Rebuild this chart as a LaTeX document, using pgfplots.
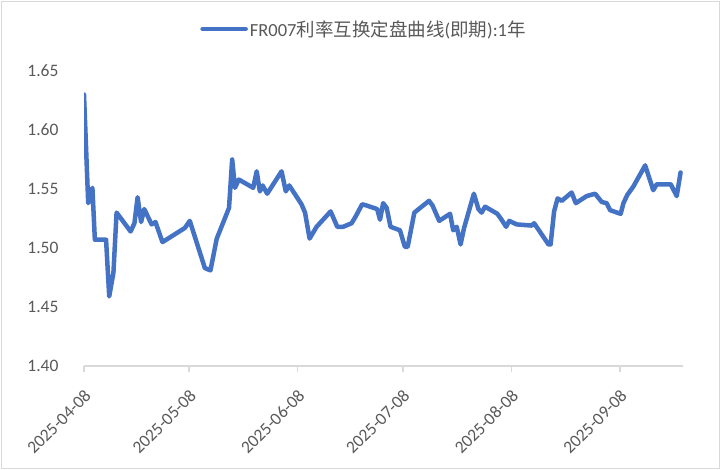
\documentclass[border=0pt]{standalone}
\usepackage{fontspec}
\setmainfont{Carlito}
\newfontfamily\cjk{Noto Sans CJK SC}
\usepackage{pgfplots}
\pgfplotsset{compat=1.18}
\definecolor{lineblue}{HTML}{4472C4}
\definecolor{txtgray}{HTML}{595959}
\definecolor{axgray}{HTML}{D9D9D9}
\begin{document}
\begin{tikzpicture}
\useasboundingbox (0,0) rectangle (721bp,470bp);
\draw[axgray, line width=1.5bp] (1.5bp,1.5bp) rectangle (719.5bp,468.5bp);
\begin{axis}[
  at={(84bp,104bp)}, anchor=south west,
  scale only axis, width=599bp, height=295bp,
  xmin=0, xmax=171, ymin=1.40, ymax=1.65,
  axis x line*=bottom, axis y line*=left,
  x axis line style={axgray, line width=1.5bp, -},
  y axis line style={draw=none},
  xtick={0,30,61,91,122,153},
  xticklabels={2025-04-08,2025-05-08,2025-06-08,2025-07-08,2025-08-08,2025-09-08},
  xtick style={axgray, line width=1.5bp},
  major tick length=6bp, tick align=outside,
  ytick={1.40,1.45,1.50,1.55,1.60,1.65},
  ytick style={draw=none},
  yticklabel style={/pgf/number format/fixed, /pgf/number format/fixed zerofill, /pgf/number format/precision=2, xshift=-16bp},
  /pgf/number format/assume math mode=true,
  ticklabel style={font=\fontsize{17.5bp}{20bp}\selectfont, text=txtgray},
  xticklabel style={rotate=45, anchor=east, inner sep=0pt, xshift=-12bp, yshift=-17.5bp},
  legend style={at={(axis description cs:0.4674,1.1424)}, anchor=center, draw=none, fill=none,
    font=\fontsize{18.5bp}{21bp}\selectfont, text=txtgray},
  legend image code/.code={\draw[#1, line width=4.5bp] (0bp,0bp) -- (43bp,0bp);},
]
\addplot[lineblue, line width=4.5bp, line join=round, line cap=round] coordinates {
(0,1.630)(1.2,1.538)(2.4,1.551)(3.1,1.507)(6.3,1.507)(7.2,1.459)(8.4,1.479)(9.3,1.530)
(13.3,1.514)(14.4,1.521)(15.3,1.543)(16.3,1.522)(17.2,1.533)(19.3,1.520)(20.4,1.522)(22.4,1.505)
(28.8,1.517)(30.2,1.523)(34.5,1.483)(36.1,1.481)(37.9,1.508)(41.4,1.534)(42.3,1.575)(43.1,1.551)
(44.2,1.558)(48.3,1.551)(49.3,1.565)(50.2,1.548)(51.0,1.553)(52.3,1.546)(56.4,1.565)(57.6,1.548)
(58.6,1.553)(62.1,1.537)(63.1,1.530)(64.4,1.508)(66.4,1.518)(70.4,1.531)(72.3,1.518)(74.0,1.518)
(76.4,1.521)(77.6,1.527)(79.4,1.537)(80.7,1.536)(83.7,1.533)(84.5,1.524)(85.4,1.538)(86.4,1.534)
(87.5,1.518)(90.2,1.515)(91.6,1.501)(92.4,1.501)(94.3,1.530)(98.5,1.540)(99.5,1.536)(101.4,1.523)
(104.5,1.529)(105.4,1.515)(106.4,1.518)(107.5,1.503)(108.5,1.517)(111.3,1.546)(112.6,1.533)(113.5,1.530)
(114.5,1.535)(118.0,1.529)(119.2,1.524)(120.5,1.518)(121.4,1.523)(123.5,1.520)(127.8,1.519)(128.5,1.521)
(132.6,1.503)(133.2,1.503)(134.2,1.531)(135.2,1.542)(136.4,1.540)(139.2,1.547)(140.4,1.538)(143.5,1.544)
(145.9,1.546)(147.8,1.539)(149.2,1.538)(150.2,1.532)(153.2,1.529)(154.0,1.538)(155.1,1.545)(156.8,1.552)
(160.2,1.570)(162.5,1.549)(163.5,1.554)(167.5,1.554)(169.2,1.544)(170.3,1.564)
};
\addlegendentry{FR007{\cjk 利率互换定盘曲线}({\cjk 即期}):1{\cjk 年}}
\end{axis}
\end{tikzpicture}
\end{document}
